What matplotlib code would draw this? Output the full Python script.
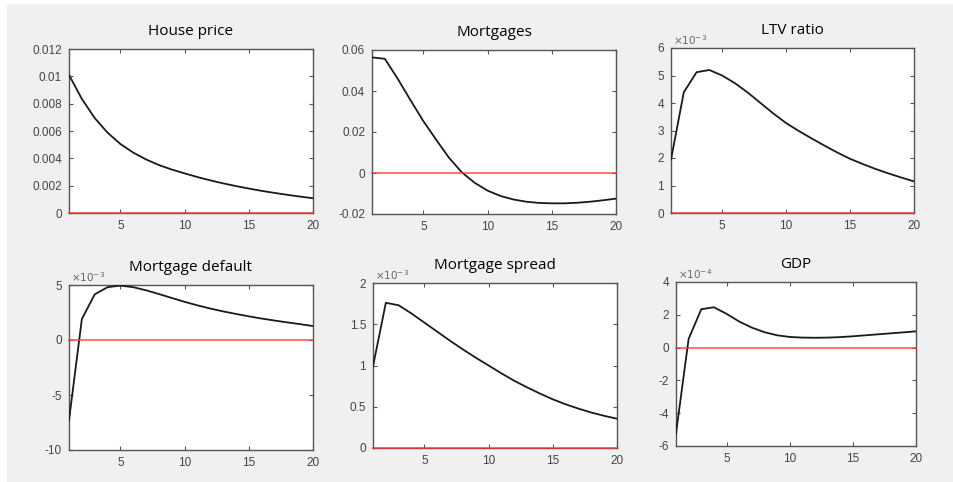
import matplotlib.pyplot as plt
from matplotlib.ticker import FuncFormatter
from matplotlib.patches import Rectangle
import numpy as np

periods = np.arange(1, 21)

titles = ['House price', 'Mortgages', 'LTV ratio',
          'Mortgage default', 'Mortgage spread', 'GDP']

house_price = np.array([10.1, 8.35, 6.95, 5.88, 5.05, 4.42, 3.92, 3.51, 3.18, 2.90,
                        2.63, 2.39, 2.17, 1.97, 1.79, 1.62, 1.47, 1.33, 1.20, 1.08]) * 1e-3
mortgages = np.array([56.4, 55.7, 46.0, 35.5, 25.3, 16.2, 7.4, 0.3, -4.8, -8.6,
                      -11.2, -12.9, -14.0, -14.6, -14.8, -14.8, -14.5, -14.0, -13.3, -12.5]) * 1e-3
ltv_ratio = np.array([1.94, 4.39, 5.12, 5.20, 5.00, 4.72, 4.38, 4.00, 3.62, 3.27,
                      2.98, 2.71, 2.45, 2.20, 1.97, 1.78, 1.60, 1.44, 1.29, 1.15]) * 1e-3
mortgage_default = np.array([-7.3, 1.9, 4.15, 4.8, 4.95, 4.8, 4.52, 4.18, 3.82, 3.47,
                             3.15, 2.86, 2.6, 2.37, 2.15, 1.95, 1.77, 1.6, 1.44, 1.27]) * 1e-3
mortgage_spread = np.array([0.99, 1.76, 1.73, 1.63, 1.52, 1.41, 1.30, 1.195, 1.095, 1.00,
                            0.905, 0.815, 0.735, 0.66, 0.59, 0.53, 0.477, 0.43, 0.39, 0.355]) * 1e-3
gdp = np.array([-5.23, 0.53, 2.34, 2.46, 2.06, 1.59, 1.22, 0.94, 0.75, 0.65,
                0.61, 0.60, 0.61, 0.64, 0.69, 0.75, 0.81, 0.87, 0.93, 0.99]) * 1e-4

series = [house_price, mortgages, ltv_ratio, mortgage_default, mortgage_spread, gdp]
ylims = [(0, 0.012), (-0.02, 0.06), (0, 6e-3), (-10e-3, 5e-3), (0, 2e-3), (-6e-4, 4e-4)]
yticks = [np.arange(0, 0.0121, 0.002), np.arange(-0.02, 0.061, 0.02), np.arange(0, 6.1, 1) * 1e-3,
          np.arange(-10, 5.1, 5) * 1e-3, np.arange(0, 2.1, 0.5) * 1e-3, np.arange(-6, 4.1, 2) * 1e-4]
exponents = [0, 0, -3, -3, -3, -4]

W, H = 954, 482
# axes boxes in pixels: left, top, right, bottom
boxes = [(69, 49, 313, 213), (372, 50, 616, 214), (671, 48, 914, 213),
         (69, 285, 313, 450), (373, 283, 617, 448), (676, 282, 916, 446)]

fig = plt.figure(figsize=(W / 100, H / 100), dpi=100, facecolor='white')
fig.patches.append(Rectangle((7 / W, 0), 1, 1 - 4 / H, transform=fig.transFigure,
                             facecolor='#f0f0f0', edgecolor='none', zorder=-10))

axis_col = '#555555'
tick_col = '#444444'

for i in range(6):
    l, t, r, b = boxes[i]
    ax = fig.add_axes([l / W, 1 - b / H, (r - l) / W, (b - t) / H])
    ax.plot(periods, series[i], color='#1a1a1a', lw=1.3, zorder=3)
    ax.axhline(0, color='#ff3030', lw=1.2, alpha=0.8, zorder=4, clip_on=False)
    ax.set_xlim(1, 20)
    ax.set_ylim(*ylims[i])
    ax.set_xticks([5, 10, 15, 20])
    ax.set_yticks(yticks[i])
    e = exponents[i]
    if e == 0:
        ax.yaxis.set_major_formatter(FuncFormatter(lambda v, p: ('%g' % round(v, 6))))
    else:
        ax.yaxis.set_major_formatter(FuncFormatter(lambda v, p, e=e: '%g' % round(v / 10.0 ** e, 6)))
        ax.text(0.01, 1.005, r'$\times10^{%d}$' % e, transform=ax.transAxes,
                fontsize=7.5, color='#666666', ha='left', va='bottom', family='DejaVu Sans')
    ax.tick_params(direction='in', length=3, width=0.8, top=True, right=True,
                   colors=axis_col, labelcolor=tick_col, labelsize=8.5, pad=5)
    for lbl in ax.get_xticklabels() + ax.get_yticklabels():
        lbl.set_family('Liberation Sans')
    for s in ax.spines.values():
        s.set_color(axis_col)
        s.set_linewidth(1.0)
    ax.set_title(titles[i], fontsize=11, family='Open Sans', color='black', pad=10)

fig.savefig('out.png', dpi=100, facecolor=fig.get_facecolor())
